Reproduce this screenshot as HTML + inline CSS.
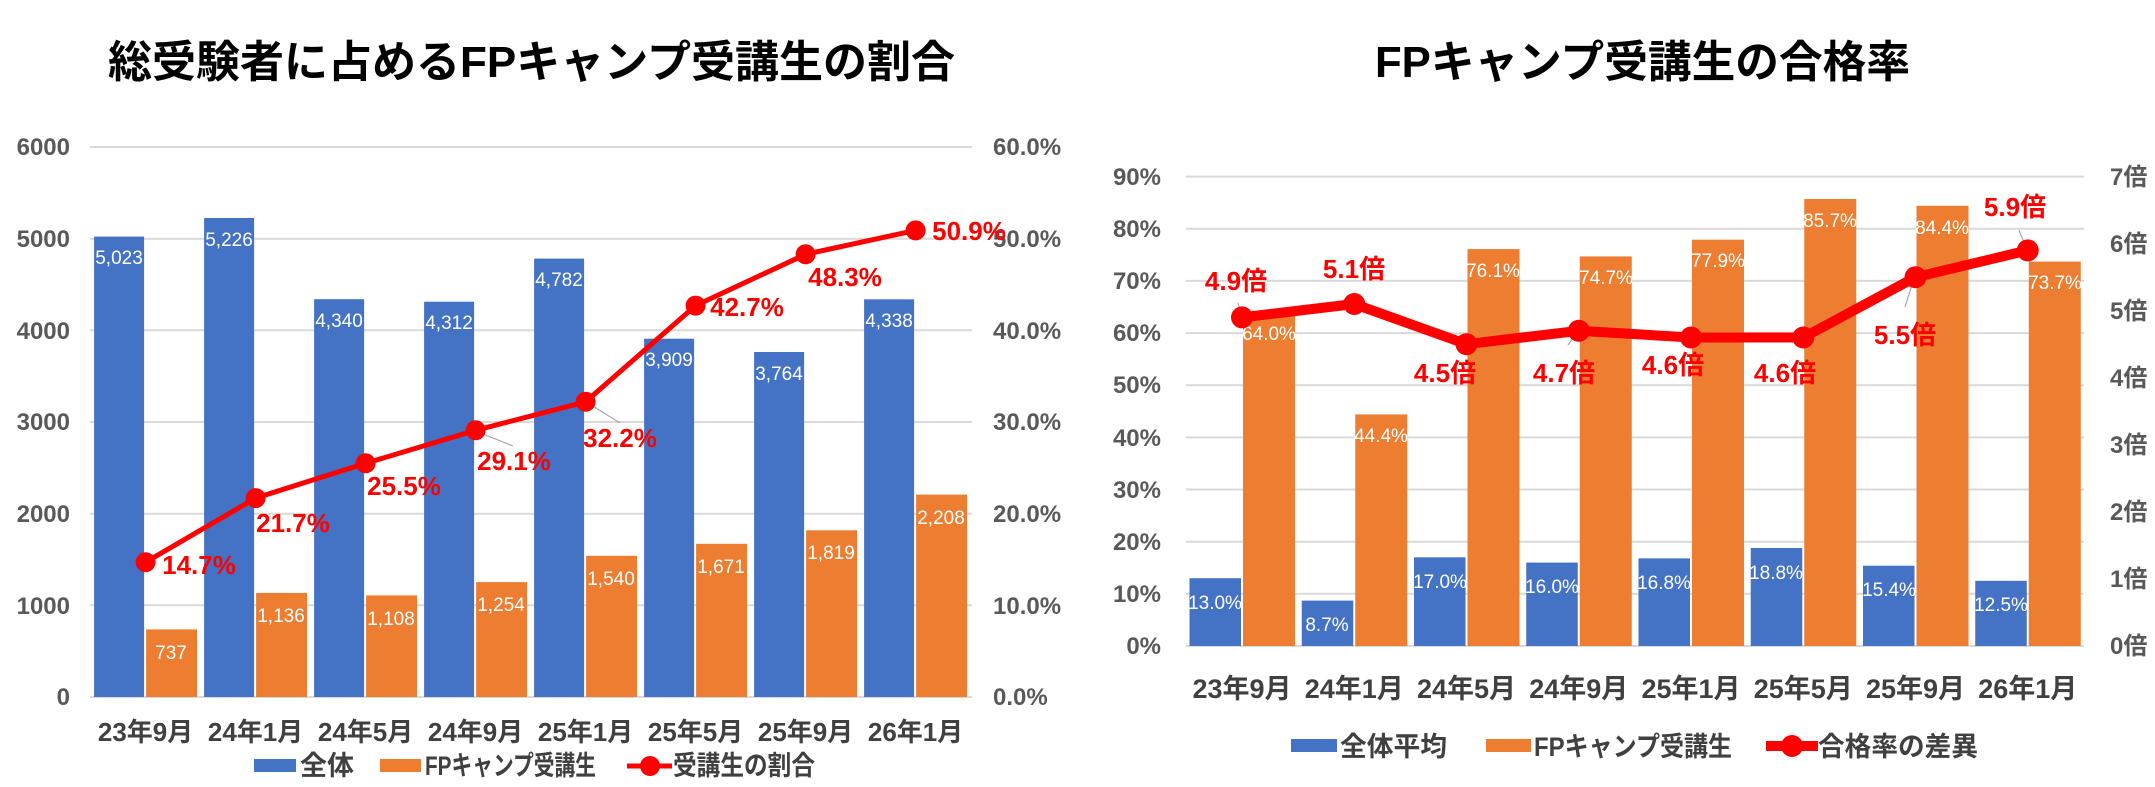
<!DOCTYPE html>
<html><head><meta charset="utf-8"><style>
html,body{margin:0;padding:0;background:#fff;}
svg{display:block;}
text{font-family:"Liberation Sans","Noto Sans CJK JP",sans-serif;}
.ax{font-size:24px;fill:#595959;font-weight:bold;}
.cat{font-size:26px;fill:#404040;font-weight:bold;}
.lg{font-size:27px;fill:#404040;font-weight:bold;}
.dl{font-size:19px;fill:#fff;}
.rl{font-size:26px;fill:#ff0000;font-weight:bold;}
.ti{font-size:44px;font-weight:bold;fill:#000;}
</style></head><body>
<svg width="2155" height="787" viewBox="0 0 2155 787" xmlns="http://www.w3.org/2000/svg">
<rect width="2155" height="787" fill="#fff"/>
<!-- Titles -->
<text class="ti" x="108" y="77" textLength="847" lengthAdjust="spacingAndGlyphs">総受験者に占めるFPキャンプ受講生の割合</text>
<text class="ti" x="1375" y="77" textLength="535" lengthAdjust="spacingAndGlyphs">FPキャンプ受講生の合格率</text>

<!-- LEFT CHART -->
<g stroke="#d9d9d9" stroke-width="2">
<line x1="90" x2="972" y1="147" y2="147"/><line x1="90" x2="972" y1="238.7" y2="238.7"/>
<line x1="90" x2="972" y1="330.3" y2="330.3"/><line x1="90" x2="972" y1="422" y2="422"/>
<line x1="90" x2="972" y1="513.7" y2="513.7"/><line x1="90" x2="972" y1="605.3" y2="605.3"/>
<line x1="90" x2="972" y1="697" y2="697"/>
</g>
<g class="ax" text-anchor="end">
<text x="70" y="155">6000</text><text x="70" y="247">5000</text><text x="70" y="339">4000</text>
<text x="70" y="430">3000</text><text x="70" y="522">2000</text><text x="70" y="614">1000</text><text x="70" y="705">0</text>
</g>
<g class="ax">
<text x="993" y="155">60.0%</text><text x="993" y="247">50.0%</text><text x="993" y="339">40.0%</text>
<text x="993" y="430">30.0%</text><text x="993" y="522">20.0%</text><text x="993" y="614">10.0%</text><text x="993" y="705">0.0%</text>
</g>
<g fill="#4472c4">
<rect x="94.1" y="236.6" width="50" height="460.4"/><rect x="204.1" y="218" width="50" height="479"/>
<rect x="314.1" y="299.2" width="50" height="397.8"/><rect x="424.1" y="301.7" width="50" height="395.3"/>
<rect x="534.1" y="258.6" width="50" height="438.4"/><rect x="644.1" y="338.7" width="50" height="358.3"/>
<rect x="754.1" y="352" width="50" height="345"/><rect x="864.1" y="299.3" width="50" height="397.7"/>
</g>
<g fill="#ed7d31">
<rect x="146.1" y="629.4" width="51" height="67.6"/><rect x="256.1" y="592.9" width="51" height="104.1"/>
<rect x="366.1" y="595.4" width="51" height="101.6"/><rect x="476.1" y="582.1" width="51" height="114.9"/>
<rect x="586.1" y="555.8" width="51" height="141.2"/><rect x="696.1" y="543.8" width="51" height="153.2"/>
<rect x="806.1" y="530.3" width="51" height="166.7"/><rect x="916.1" y="494.6" width="51" height="202.4"/>
</g>
<g class="dl" text-anchor="middle">
<text x="119" y="264">5,023</text><text x="229" y="246">5,226</text><text x="339" y="327">4,340</text>
<text x="449" y="329">4,312</text><text x="559" y="286">4,782</text><text x="669" y="366">3,909</text>
<text x="779" y="380">3,764</text><text x="889" y="327">4,338</text>
<text x="171" y="659">737</text><text x="281" y="622">1,136</text><text x="391" y="625">1,108</text>
<text x="501" y="611">1,254</text><text x="611" y="585">1,540</text><text x="721" y="573">1,671</text>
<text x="831" y="559">1,819</text><text x="941" y="524">2,208</text>
</g>
<g stroke="#a6a6a6" stroke-width="1.2">
<line x1="478" y1="432" x2="513" y2="446"/><line x1="588" y1="403" x2="620" y2="423"/>
</g>
<polyline fill="none" stroke="#ff0000" stroke-width="5" points="145.6,562.2 255.6,498.1 365.6,463.3 475.6,430.3 585.6,401.8 695.6,305.6 805.6,254.3 915.6,230.4"/>
<g fill="#ff0000">
<circle cx="145.6" cy="562.2" r="10"/><circle cx="255.6" cy="498.1" r="10"/><circle cx="365.6" cy="463.3" r="10"/>
<circle cx="475.6" cy="430.3" r="10"/><circle cx="585.6" cy="401.8" r="10"/><circle cx="695.6" cy="305.6" r="10"/>
<circle cx="805.6" cy="254.3" r="10"/><circle cx="915.6" cy="230.4" r="10"/>
</g>
<g class="rl" text-anchor="middle">
<text x="199" y="574">14.7%</text><text x="293" y="532">21.7%</text><text x="404" y="495">25.5%</text>
<text x="514" y="470">29.1%</text><text x="620" y="447">32.2%</text><text x="747" y="316">42.7%</text>
<text x="845" y="286">48.3%</text><text x="969" y="240">50.9%</text>
</g>
<g class="cat" text-anchor="middle">
<text x="145.6" y="741">23年9月</text><text x="255.6" y="741">24年1月</text><text x="365.6" y="741">24年5月</text>
<text x="475.6" y="741">24年9月</text><text x="585.6" y="741">25年1月</text><text x="695.6" y="741">25年5月</text>
<text x="805.6" y="741">25年9月</text><text x="915.6" y="741">26年1月</text>
</g>
<rect x="254" y="759" width="42" height="13" fill="#4472c4"/>
<text class="lg" x="300" y="775">全体</text>
<rect x="380" y="759" width="41" height="13" fill="#ed7d31"/>
<text class="lg" x="425" y="775" textLength="171" lengthAdjust="spacingAndGlyphs">FPキャンプ受講生</text>
<line x1="627" y1="766" x2="672" y2="766" stroke="#ff0000" stroke-width="5"/>
<circle cx="650" cy="766" r="10" fill="#ff0000"/>
<text class="lg" x="673" y="775" textLength="142" lengthAdjust="spacingAndGlyphs">受講生の割合</text>

<!-- RIGHT CHART -->
<g stroke="#d9d9d9" stroke-width="2">
<line x1="1186" x2="2084" y1="176.6" y2="176.6"/><line x1="1186" x2="2084" y1="228.8" y2="228.8"/>
<line x1="1186" x2="2084" y1="280.9" y2="280.9"/><line x1="1186" x2="2084" y1="333.1" y2="333.1"/>
<line x1="1186" x2="2084" y1="385.2" y2="385.2"/><line x1="1186" x2="2084" y1="437.4" y2="437.4"/>
<line x1="1186" x2="2084" y1="489.5" y2="489.5"/><line x1="1186" x2="2084" y1="541.7" y2="541.7"/>
<line x1="1186" x2="2084" y1="593.8" y2="593.8"/><line x1="1186" x2="2084" y1="646" y2="646"/>
</g>
<g class="ax" text-anchor="end">
<text x="1161" y="185">90%</text><text x="1161" y="237">80%</text><text x="1161" y="289">70%</text>
<text x="1161" y="341">60%</text><text x="1161" y="393">50%</text><text x="1161" y="446">40%</text>
<text x="1161" y="498">30%</text><text x="1161" y="550">20%</text><text x="1161" y="602">10%</text><text x="1161" y="654">0%</text>
</g>
<g class="ax">
<text x="2110" y="185">7倍</text><text x="2110" y="252">6倍</text><text x="2110" y="319">5倍</text>
<text x="2110" y="386">4倍</text><text x="2110" y="453">3倍</text><text x="2110" y="520">2倍</text>
<text x="2110" y="587">1倍</text><text x="2110" y="654">0倍</text>
</g>
<g fill="#4472c4">
<rect x="1189.5" y="578.2" width="51.5" height="67.8"/><rect x="1301.75" y="600.6" width="51.5" height="45.4"/>
<rect x="1414" y="557.3" width="51.5" height="88.7"/><rect x="1526.25" y="562.6" width="51.5" height="83.4"/>
<rect x="1638.5" y="558.4" width="51.5" height="87.6"/><rect x="1750.75" y="548" width="51.5" height="98"/>
<rect x="1863" y="565.7" width="51.5" height="80.3"/><rect x="1975.25" y="580.8" width="51.5" height="65.2"/>
</g>
<g fill="#ed7d31">
<rect x="1243" y="312.2" width="52" height="333.8"/><rect x="1355.25" y="414.4" width="52" height="231.6"/>
<rect x="1467.5" y="249.1" width="52" height="396.9"/><rect x="1579.75" y="256.4" width="52" height="389.6"/>
<rect x="1692" y="239.7" width="52" height="406.3"/><rect x="1804.25" y="199" width="52" height="447"/>
<rect x="1916.5" y="205.8" width="52" height="440.2"/><rect x="2028.75" y="261.6" width="52" height="384.4"/>
</g>
<g class="dl" text-anchor="middle">
<text x="1215" y="609">13.0%</text><text x="1327" y="631">8.7%</text><text x="1440" y="588">17.0%</text>
<text x="1552" y="593">16.0%</text><text x="1664" y="589">16.8%</text><text x="1776" y="579">18.8%</text>
<text x="1889" y="596">15.4%</text><text x="2001" y="611">12.5%</text>
<text x="1269" y="340">64.0%</text><text x="1381" y="442">44.4%</text><text x="1493" y="277">76.1%</text>
<text x="1606" y="284">74.7%</text><text x="1718" y="267">77.9%</text><text x="1830" y="227">85.7%</text>
<text x="1942" y="234">84.4%</text><text x="2055" y="289">73.7%</text>
</g>
<g stroke="#a6a6a6" stroke-width="1.2">
<line x1="1238" y1="303" x2="1242" y2="316"/><line x1="1568" y1="345" x2="1578" y2="331"/>
<line x1="1905" y1="307" x2="1913" y2="282"/><line x1="2019" y1="230" x2="2027" y2="250"/>
</g>
<polyline fill="none" stroke="#ff0000" stroke-width="10" stroke-linejoin="round" points="1242,317.4 1354.25,304 1466.5,344.2 1578.75,330.8 1691,337.5 1803.25,337.5 1915.5,277.2 2027.75,250.4"/>
<g fill="#ff0000">
<circle cx="1242" cy="317.4" r="11"/><circle cx="1354.25" cy="304" r="11"/><circle cx="1466.5" cy="344.2" r="11"/>
<circle cx="1578.75" cy="330.8" r="11"/><circle cx="1691" cy="337.5" r="11"/><circle cx="1803.25" cy="337.5" r="11"/>
<circle cx="1915.5" cy="277.2" r="11"/><circle cx="2027.75" cy="250.4" r="11"/>
</g>
<g class="rl" text-anchor="middle">
<text x="1236" y="290">4.9倍</text><text x="1354" y="278">5.1倍</text><text x="1445" y="382">4.5倍</text>
<text x="1564" y="382">4.7倍</text><text x="1673" y="374">4.6倍</text><text x="1785" y="382">4.6倍</text>
<text x="1905" y="344">5.5倍</text><text x="2015" y="216">5.9倍</text>
</g>
<g class="cat" text-anchor="middle" style="font-size:27px">
<text x="1242" y="698">23年9月</text><text x="1354.25" y="698">24年1月</text><text x="1466.5" y="698">24年5月</text>
<text x="1578.75" y="698">24年9月</text><text x="1691" y="698">25年1月</text><text x="1803.25" y="698">25年5月</text>
<text x="1915.5" y="698">25年9月</text><text x="2027.75" y="698">26年1月</text>
</g>
<rect x="1291" y="739" width="46" height="13" fill="#4472c4"/>
<text class="lg" x="1340" y="756" textLength="107" lengthAdjust="spacingAndGlyphs">全体平均</text>
<rect x="1486" y="739" width="45" height="13" fill="#ed7d31"/>
<text class="lg" x="1534" y="756" textLength="198" lengthAdjust="spacingAndGlyphs">FPキャンプ受講生</text>
<line x1="1766" y1="746" x2="1818" y2="746" stroke="#ff0000" stroke-width="10"/>
<circle cx="1792" cy="746" r="11" fill="#ff0000"/>
<text class="lg" x="1818" y="756" textLength="160" lengthAdjust="spacingAndGlyphs">合格率の差異</text>
</svg>
</body></html>
